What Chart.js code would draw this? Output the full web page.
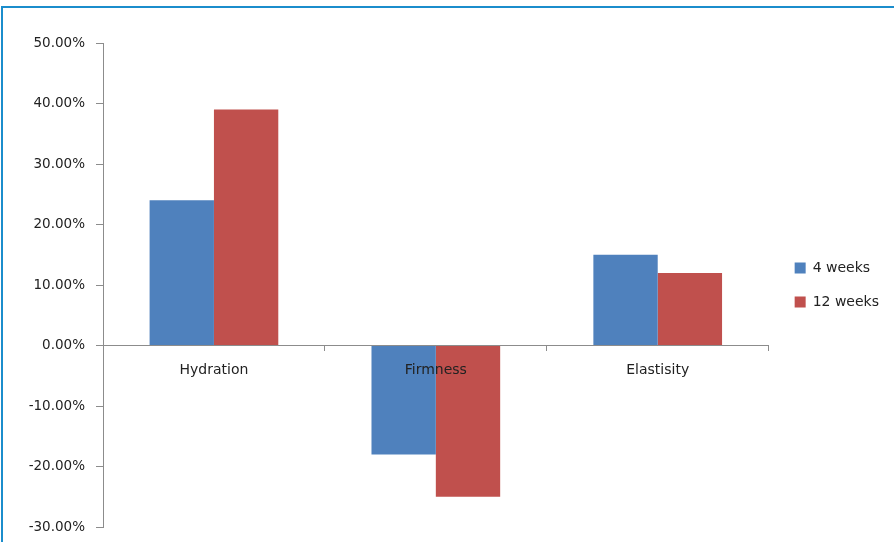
<!DOCTYPE html>
<html>
<head>
<meta charset="utf-8">
<script src="https://cdn.jsdelivr.net/npm/chart.js@4"></script>
<style>
  body { margin: 0; background: #fff; }
  #wrap { position: relative; width: 894px; height: 542px; }
  #frameTop { position: absolute; left: 2px; top: 6px; width: 892px; height: 2px; background: #1b8dcc; }
  #frameLeft { position: absolute; left: 1px; top: 6px; width: 2px; height: 536px; background: #1b8dcc; }
  canvas { position: absolute; left: 0; top: 0; }
</style>
</head>
<body>
<div id="wrap">
  <canvas id="skinChart" width="894" height="542"></canvas>
  <div id="frameTop"></div>
  <div id="frameLeft"></div>
</div>
<script>
//////// data ////////
const categories = ["Hydration", "Firmness", "Elastisity"]
const weeks4 = [0.24, -0.18, 0.15]
const weeks12 = [0.39, -0.25, 0.12]
const seriesNames = ["4 weeks", "12 weeks"]
const yTicks = [-0.3, -0.2, -0.1, 0, 0.1, 0.2, 0.3, 0.4, 0.5]

const axisGray = "#8c8c8c"
const textColor = "#222"

// legend sits a bit further away from the plot than labels.padding allows
const nudgeLegend = {
    id: "nudgeLegend",
    afterLayout(chart) {
        chart.legend.left += 6
        chart.legend.right += 6
    }
}

let ctx = document.getElementById("skinChart").getContext("2d")
const skinChart = new Chart(ctx, {
    type: "bar",
    data: {
        labels: categories,
        datasets: [{
            label: seriesNames[0],
            data: weeks4,
            backgroundColor: "#4f81bd",
            borderWidth: 0
        }, {
            label: seriesNames[1],
            data: weeks12,
            backgroundColor: "#c0504d",
            borderWidth: 0
        }]
    },
    plugins: [nudgeLegend],
    options: {
        responsive: false,
        animation: false,
        layout: {
            padding: { top: 43, bottom: 15, left: 23, right: 11 }
        },
        datasets: {
            bar: { categoryPercentage: 0.58, barPercentage: 1 }
        },
        scales: {
            x: {
                position: { y: 0 },
                grid: { drawOnChartArea: false, drawTicks: true, tickLength: 5, color: axisGray },
                border: { display: true, color: axisGray, width: 1 },
                ticks: {
                    z: 1,
                    color: textColor,
                    padding: 11,
                    font: { family: "DejaVu Sans", size: 14 }
                }
            },
            y: {
                min: -0.3,
                max: 0.5,
                afterBuildTicks: (scale) => {
                    scale.ticks = yTicks.map(v => ({ value: v }))
                },
                afterFit: (scale) => {
                    scale.width = 80
                    scale.paddingTop = 0
                    scale.paddingBottom = 0
                },
                grid: { drawOnChartArea: false, drawTicks: true, tickLength: 7, color: axisGray },
                border: { display: true, color: axisGray, width: 1 },
                ticks: {
                    color: textColor,
                    padding: 11,
                    font: { family: "DejaVu Sans", size: 13.5 },
                    callback: (v) => (v * 100).toFixed(2) + "%"
                }
            }
        },
        plugins: {
            tooltip: { enabled: false },
            legend: {
                position: "right",
                fullSize: false,
                labels: {
                    boxWidth: 11,
                    boxHeight: 11,
                    padding: 20,
                    color: textColor,
                    font: { family: "DejaVu Sans", size: 14 }
                }
            }
        }
    }
})
</script>
</body>
</html>
